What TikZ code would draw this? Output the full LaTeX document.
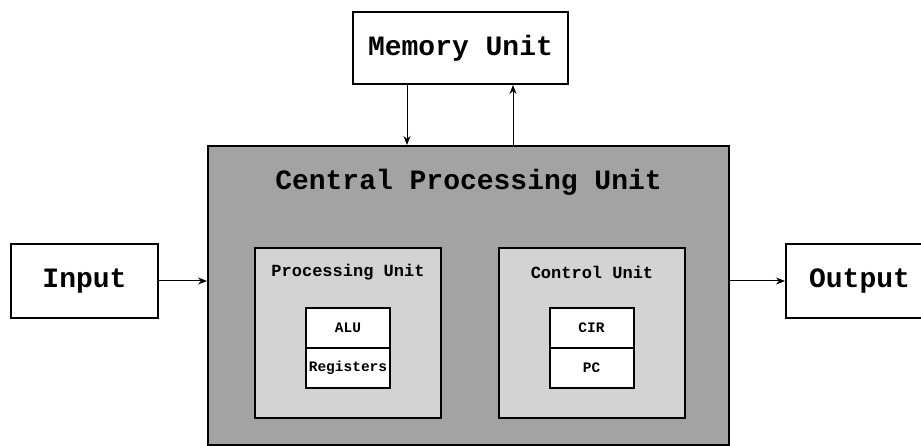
\documentclass[tikz,border=0pt]{standalone}
\usepackage{fontspec}
\setmonofont{Liberation Mono}
\usetikzlibrary{arrows.meta}
\definecolor{cpugray}{HTML}{A3A3A3}
\definecolor{unitgray}{HTML}{D3D3D3}
\begin{document}
\begin{tikzpicture}[x=1pt,y=-1pt,
  box/.style={draw=black,line width=2pt,fill=white,rectangle,inner sep=0pt},
  bigtxt/.style={font=\ttfamily\bfseries\fontsize{28}{30}\selectfont},
  midtxt/.style={font=\ttfamily\bfseries\fontsize{17}{19}\selectfont},
  smalltxt/.style={font=\ttfamily\bfseries\fontsize{14.5}{16}\selectfont},
  arr/.style={draw=black,line width=1pt,-{Stealth[length=9pt,width=7pt]}}]
\useasboundingbox (0,0) rectangle (921,446);
\begin{scope}
\clip (0,0) rectangle (921,446);
% main blocks
\node[box,minimum width=215pt,minimum height=72pt,bigtxt] (mem) at (460.5,48) {Memory Unit};
\node[box,fill=cpugray,minimum width=521pt,minimum height=299pt] (cpu) at (468.5,295.5) {};
\node[bigtxt] (cputitle) at (468.5,182) {Central Processing Unit};
\node[box,minimum width=147pt,minimum height=74pt,bigtxt] (in) at (84.5,281) {Input};
\node[box,minimum width=147pt,minimum height=74pt,bigtxt] (out) at (859.5,281) {Output};
% units inside the CPU
\node[box,fill=unitgray,minimum width=186pt,minimum height=170pt] (pu) at (348,333) {};
\node[midtxt] (putitle) at (348,272) {Processing Unit};
\node[box,minimum width=84pt,minimum height=40pt,smalltxt] (alu) at (348,328) {ALU};
\node[box,minimum width=84pt,minimum height=40pt,smalltxt] (reg) at (348,368) {Registers};
\node[box,fill=unitgray,minimum width=186pt,minimum height=170pt] (cu) at (592,333) {};
\node[midtxt] (cutitle) at (592,272) {Control Unit};
\node[box,minimum width=84pt,minimum height=40pt,smalltxt] (cir) at (591.5,328) {CIR};
\node[box,minimum width=84pt,minimum height=40pt,smalltxt] (pc) at (591.5,368) {PC};
% connectors
\coordinate (down) at (407,0);
\coordinate (up) at (513,0);
\draw[arr] (mem.south -| down) -- (cpu.north -| down);
\draw[arr] (cpu.north -| up) -- (mem.south -| up);
\draw[arr] (in.east) -- (in.east -| cpu.west);
\draw[arr] (cpu.east |- out.west) -- (out.west);
\end{scope}
\end{tikzpicture}
\end{document}
